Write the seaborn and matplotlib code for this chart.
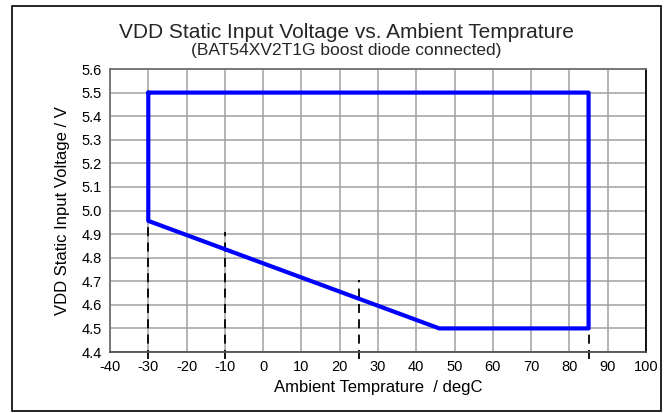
import pandas as pd
import matplotlib.pyplot as plt
import seaborn as sns

# operating area outline
temp = [-30, 85, 85, 46, -30, -30]
vdd = [5.5, 5.5, 4.5, 4.5, 4.956, 5.5]

# dashed reference markers
mark_temp = [-30, -10, 25, 85]
mark_top = [4.956, 4.91, 4.705, 4.5]
mark_bottom = 4.37

x_ticks = list(range(-40, 101, 10))
y_ticks = [round(4.4 + 0.1 * i, 1) for i in range(13)]

sns.set_theme(style='whitegrid')
plt.rcParams['font.family'] = ['Liberation Sans', 'DejaVu Sans']

fig = plt.figure(figsize=(6.69, 4.13), dpi=100)
ax = fig.add_axes([110 / 669, 61 / 413, 536 / 669, 283 / 413])

df = pd.DataFrame({'temp': temp, 'vdd': vdd})
sns.lineplot(data=df, x='temp', y='vdd', sort=False, estimator=None,
             color='#0000ff', linewidth=3, ax=ax, zorder=3)

for t, top in zip(mark_temp, mark_top):
    seg = pd.DataFrame({'temp': [t, t], 'vdd': [mark_bottom, top]})
    sns.lineplot(data=seg, x='temp', y='vdd', sort=False, estimator=None,
                 color='black', linewidth=1.3, dashes=False,
                 linestyle=(0, (5, 3.5)), ax=ax, zorder=2, clip_on=False)

ax.set_xlim(-40, 100)
ax.set_ylim(4.4, 5.6)
ax.set_xticks(x_ticks)
ax.set_yticks(y_ticks)
ax.set_xticklabels([str(v) for v in x_ticks], fontsize=10.5)
ax.set_yticklabels([f'{v:.1f}' for v in y_ticks], fontsize=10.5)
ax.tick_params(length=0, pad=6, colors='black')
ax.grid(True, color='#a0a0a0', linewidth=1.1)
for s in ax.spines.values():
    s.set_visible(True)
    s.set_color('#707070')
    s.set_linewidth(1.3)
ax.spines['right'].set_color('black')
ax.spines['bottom'].set_color('#505050')

ax.set_xlabel('Ambient Temprature  / degC', fontsize=12, color='black', labelpad=4)
ax.set_ylabel('VDD Static Input Voltage / V', fontsize=12, color='black', labelpad=8)

fig.text(346 / 669, 1 - 32 / 413, 'VDD Static Input Voltage vs. Ambient Temprature',
         ha='center', va='center', fontsize=15)
fig.text(346 / 669, 1 - 50 / 413, '(BAT54XV2T1G boost diode connected)',
         ha='center', va='center', fontsize=12.5)

border = plt.Rectangle((12 / 669, 2 / 413), 649 / 669, 405 / 413, transform=fig.transFigure,
                       fill=False, edgecolor='black', linewidth=1.2)
fig.add_artist(border)

plt.savefig('out.png', dpi=100)
